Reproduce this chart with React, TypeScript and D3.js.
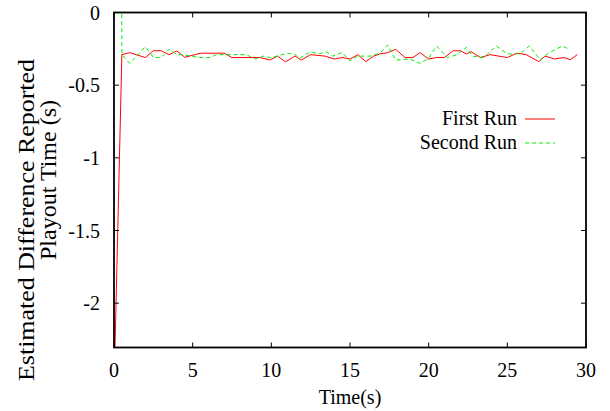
import { useEffect, useRef } from 'react';
import * as d3 from 'd3';

const FIRST_T = [0, 0.5, 1.0, 2.0, 2.5, 3.0, 3.5, 4.0, 4.5, 5.5, 7.0, 7.5, 9.3, 9.9, 10.4, 10.9, 11.5, 11.9, 12.5, 13.4, 14.0, 14.5, 15.0, 15.5, 16.0, 16.5, 16.9, 17.4, 17.9, 18.5, 19.0, 19.45, 20.0, 20.5, 21.0, 21.55, 22.0, 22.4, 22.7, 23.3, 23.9, 25.0, 25.6, 26.2, 27.0, 27.4, 28.0, 28.6, 29.0, 29.45];
const FIRST_V = [-2.6, -0.29, -0.276, -0.31, -0.263, -0.263, -0.29, -0.265, -0.308, -0.28, -0.28, -0.31, -0.31, -0.327, -0.3, -0.34, -0.3, -0.327, -0.29, -0.3, -0.32, -0.31, -0.32, -0.29, -0.338, -0.3, -0.285, -0.276, -0.253, -0.31, -0.31, -0.276, -0.32, -0.31, -0.31, -0.263, -0.263, -0.285, -0.27, -0.31, -0.29, -0.31, -0.28, -0.29, -0.338, -0.3, -0.32, -0.31, -0.325, -0.29];

const SECOND_T = [0.45, 0.5, 1.0, 2.0, 2.5, 3.0, 3.5, 4.0, 4.4, 5.4, 6.1, 6.5, 8.4, 9.0, 9.5, 9.9, 10.4, 11.0, 11.5, 11.8, 12.5, 13.0, 13.5, 13.9, 14.5, 15.0, 15.5, 16.3, 16.9, 17.4, 17.9, 18.8, 19.45, 20.0, 20.5, 21.2, 21.8, 22.4, 22.8, 23.5, 24.3, 25.0, 25.8, 26.4, 27.1, 27.6, 28.5, 28.9];
const SECOND_V = [1.0, -0.29, -0.35, -0.235, -0.31, -0.31, -0.253, -0.29, -0.29, -0.31, -0.31, -0.29, -0.29, -0.32, -0.3, -0.31, -0.3, -0.28, -0.29, -0.315, -0.27, -0.285, -0.27, -0.3, -0.275, -0.333, -0.3, -0.3, -0.28, -0.224, -0.327, -0.32, -0.35, -0.315, -0.23, -0.31, -0.29, -0.24, -0.3, -0.31, -0.23, -0.285, -0.285, -0.23, -0.327, -0.28, -0.23, -0.253];

const X_TICKS = [0, 5, 10, 15, 20, 25, 30];
const Y_TICKS = [0, -0.5, -1, -1.5, -2];

const SERIES = [
  { label: 'First Run', t: FIRST_T, v: FIRST_V, color: '#ff0000', dash: null },
  { label: 'Second Run', t: SECOND_T, v: SECOND_V, color: '#00ee00', dash: '4,3' },
];

export default function App() {
  const svgRef = useRef<SVGSVGElement>(null);

  useEffect(() => {
    if (!svgRef.current) return;
    const svg = d3.select(svgRef.current);
    svg.selectAll('*').remove();

    const left = 114, right = 586, top = 12.5, bottom = 347.5;
    const x = d3.scaleLinear().domain([0, 30]).range([left, right]);
    const y = d3.scaleLinear().domain([-2.305, 0]).range([bottom, top]);
    const font = '"Liberation Serif", "Times New Roman", serif';

    svg.append('defs').append('clipPath').attr('id', 'plot-clip')
      .append('rect').attr('x', left).attr('y', top)
      .attr('width', right - left).attr('height', bottom - top);

    // Lines
    const line = d3.line<[number, number]>().x((d) => x(d[0])).y((d) => y(d[1]));
    const lines = svg.append('g').attr('clip-path', 'url(#plot-clip)');
    SERIES.forEach((s) => {
      const pts = s.t.map((t, i) => [t, s.v[i]] as [number, number]);
      lines.append('path')
        .attr('d', line(pts))
        .attr('fill', 'none')
        .attr('stroke', s.color)
        .attr('stroke-width', 1)
        .attr('stroke-dasharray', s.dash);
    });

    // Frame + mirrored inward ticks
    const tk = 5;
    const ax = svg.append('g').attr('stroke', '#000').attr('stroke-width', 1);
    X_TICKS.forEach((t) => {
      ax.append('line').attr('x1', x(t)).attr('x2', x(t)).attr('y1', bottom).attr('y2', bottom - tk);
      ax.append('line').attr('x1', x(t)).attr('x2', x(t)).attr('y1', top).attr('y2', top + tk);
    });
    Y_TICKS.forEach((v) => {
      ax.append('line').attr('x1', left).attr('x2', left + tk).attr('y1', y(v)).attr('y2', y(v));
      ax.append('line').attr('x1', right).attr('x2', right - tk).attr('y1', y(v)).attr('y2', y(v));
    });
    svg.append('rect')
      .attr('x', left).attr('y', top)
      .attr('width', right - left).attr('height', bottom - top)
      .attr('fill', 'none').attr('stroke', '#000').attr('stroke-width', 1.8);

    // Tick labels
    const labels = svg.append('g').attr('font-family', font).attr('font-size', 20).attr('fill', '#000');
    X_TICKS.forEach((t) => {
      labels.append('text').attr('x', x(t)).attr('y', 377)
        .attr('text-anchor', 'middle').text(d3.format('d')(t));
    });
    Y_TICKS.forEach((v) => {
      labels.append('text').attr('x', 100).attr('y', y(v) + 7)
        .attr('text-anchor', 'end').text(v === 0 ? '0' : String(v));
    });

    // Axis titles
    labels.append('text').attr('x', (left + right) / 2).attr('y', 404)
      .attr('text-anchor', 'middle').text('Time(s)');
    labels.append('text').attr('transform', 'translate(34,220) rotate(-90)')
      .attr('text-anchor', 'middle').attr('font-size', 24)
      .attr('textLength', 322).attr('lengthAdjust', 'spacingAndGlyphs')
      .text('Estimated Difference Reported');
    labels.append('text').attr('transform', 'translate(56,180) rotate(-90)')
      .attr('text-anchor', 'middle').attr('font-size', 24)
      .text('Playout Time (s)');

    // Legend
    SERIES.forEach((s, i) => {
      const ly = 119 + i * 24;
      labels.append('text').attr('x', 517).attr('y', ly + 6)
        .attr('text-anchor', 'end').text(s.label);
      svg.append('line').attr('x1', 525).attr('x2', 555).attr('y1', ly).attr('y2', ly)
        .attr('stroke', s.color).attr('stroke-width', 1)
        .attr('stroke-dasharray', s.dash);
    });
  }, []);

  return (
    <svg
      ref={svgRef}
      width={610}
      height={411}
      style={{ position: 'absolute', left: 0, top: 0, background: '#fff' }}
    />
  );
}
